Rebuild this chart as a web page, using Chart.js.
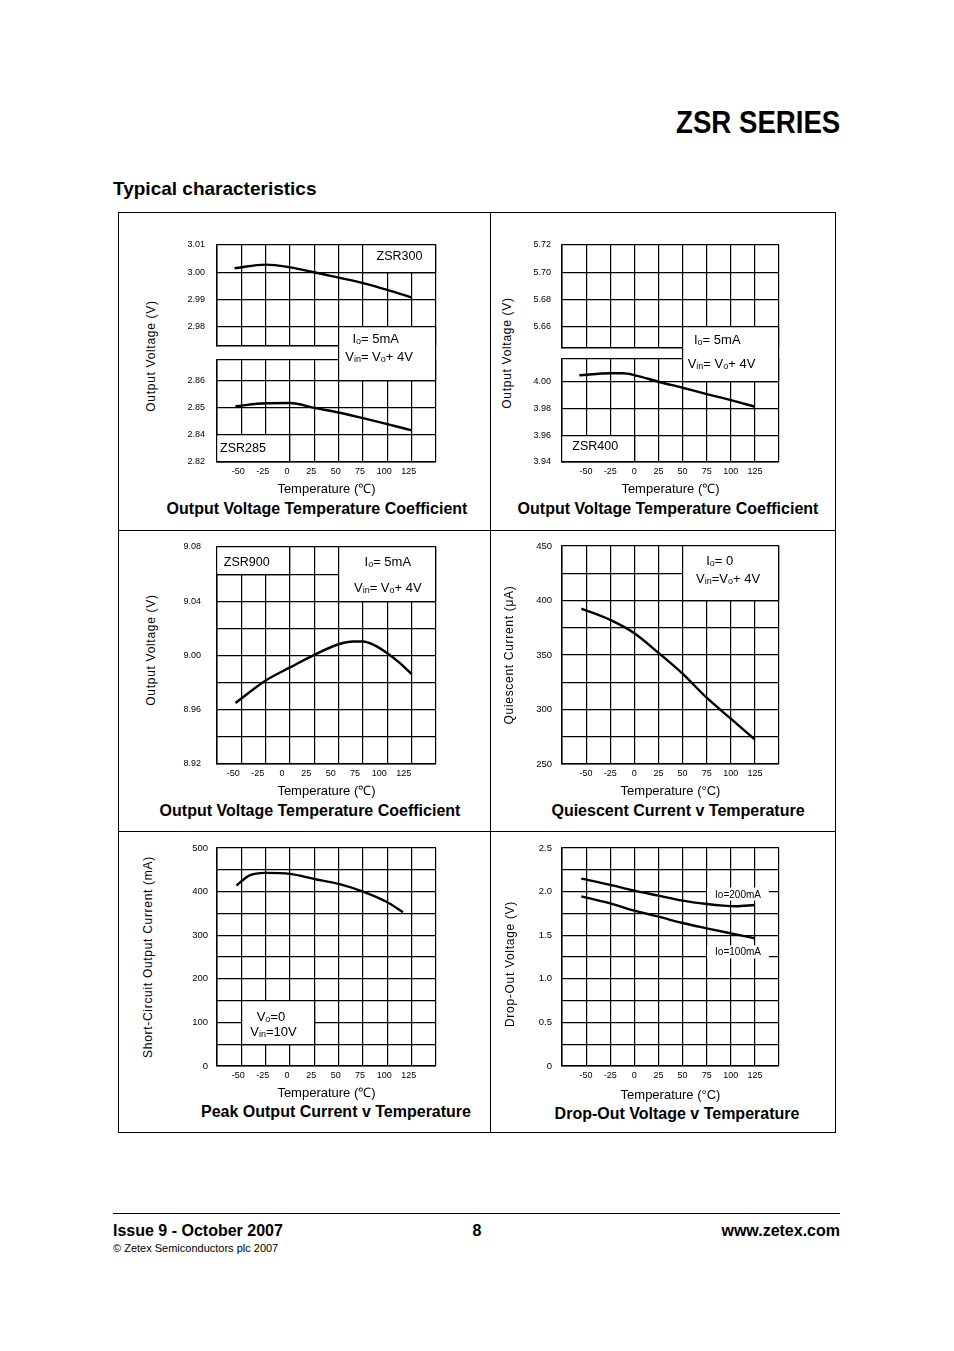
<!DOCTYPE html>
<html>
<head>
<meta charset="utf-8">
<script src="https://cdn.jsdelivr.net/npm/chart.js@4.4.1/dist/chart.umd.min.js"></script>
<style>
  body { margin: 0; background: #fff; }
  #page { position: relative; width: 954px; height: 1351px; font-family: "Liberation Sans", Arial, sans-serif; color: #000; overflow: hidden; }
  .abs { position: absolute; white-space: nowrap; }
  .line { position: absolute; background: #000; }
  canvas { position: absolute; }
  .ytitle { position: absolute; font-size: 12px; letter-spacing: 0.7px; white-space: nowrap; transform: translate(-50%, -50%) rotate(-90deg); }
  .ptitle { position: absolute; font-weight: bold; font-size: 16px; line-height: 16px; white-space: nowrap; transform: translateX(-50%); }
</style>
</head>
<body>
<div id="page">
  <div class="abs" style="right:114px; top:106px; font: bold 32px/32px 'Liberation Sans', Arial, sans-serif; transform: scaleX(0.863); transform-origin: right center;">ZSR SERIES</div>
  <div class="abs" style="left:113px; top:179px; font: bold 19px/19px 'Liberation Sans', Arial, sans-serif;">Typical characteristics</div>

  <!-- panel frame -->
  <div class="line" style="left:118px; top:212px; width:718px; height:1px;"></div>
  <div class="line" style="left:118px; top:1132px; width:718px; height:1px;"></div>
  <div class="line" style="left:118px; top:212px; width:1px; height:921px;"></div>
  <div class="line" style="left:835px; top:212px; width:1px; height:921px;"></div>
  <div class="line" style="left:490px; top:212px; width:1px; height:921px;"></div>
  <div class="line" style="left:118px; top:530px; width:718px; height:1px;"></div>
  <div class="line" style="left:118px; top:831px; width:718px; height:1px;"></div>

  <canvas id="c1a" style="z-index:2"></canvas>
  <canvas id="c1b" style="z-index:1"></canvas>
  <canvas id="c2a" style="z-index:2"></canvas>
  <canvas id="c2b" style="z-index:1"></canvas>
  <canvas id="c3"></canvas>
  <canvas id="c4"></canvas>
  <canvas id="c5"></canvas>
  <canvas id="c6"></canvas>

  <div class="ytitle" style="left:151px; top:356px;">Output Voltage (V)</div>
  <div class="ytitle" style="left:507px; top:353px;">Output Voltage (V)</div>
  <div class="ytitle" style="left:151px; top:650px;">Output Voltage (V)</div>
  <div class="ytitle" style="left:509px; top:655px;">Quiescent Current (μA)</div>
  <div class="ytitle" style="left:148px; top:957px;">Short-Circuit Output Current (mA)</div>
  <div class="ytitle" style="left:510px; top:964px;">Drop-Out Voltage (V)</div>

  <div class="ptitle" style="left:317px; top:501px;">Output Voltage Temperature Coefficient</div>
  <div class="ptitle" style="left:668px; top:501px;">Output Voltage Temperature Coefficient</div>
  <div class="ptitle" style="left:310px; top:803px;">Output Voltage Temperature Coefficient</div>
  <div class="ptitle" style="left:678px; top:803px;">Quiescent Current v Temperature</div>
  <div class="ptitle" style="left:336px; top:1104px;">Peak Output Current v Temperature</div>
  <div class="ptitle" style="left:677px; top:1106px;">Drop-Out Voltage v Temperature</div>

  <!-- footer -->
  <div class="line" style="left:113px; top:1213px; width:727px; height:1px;"></div>
  <div class="abs" style="left:113px; top:1223px; font: bold 16px/16px 'Liberation Sans', Arial, sans-serif;">Issue 9 - October 2007</div>
  <div class="abs" style="left:477px; top:1223px; transform:translateX(-50%); font: bold 16px/16px 'Liberation Sans', Arial, sans-serif;">8</div>
  <div class="abs" style="right:114px; top:1223px; font: bold 16px/16px 'Liberation Sans', Arial, sans-serif;">www.zetex.com</div>
  <div class="abs" style="left:113px; top:1243px; font: 11px/11px 'Liberation Sans', Arial, sans-serif;">© Zetex Semiconductors plc 2007</div>
</div>

<script>
// temperature axis: grid every 25 °C, labels -50..125
const tempGrid = [-75, -50, -25, 0, 25, 50, 75, 100, 125, 150];
const tempLabels = ['', '-50', '-25', '0', '25', '50', '75', '100', '125', ''];

// panel 1: ZSR300 (upper) and ZSR285 (lower)
const t300 = [-57, -25, 0, 25, 50, 75, 100, 125];
const v300 = [3.0015, 3.0028, 3.0018, 3.0000, 2.9980, 2.9960, 2.9935, 2.9907];
const t285 = [-56, -25, 0, 25, 50, 75, 100, 125];
const v285 = [2.8506, 2.8517, 2.8518, 2.8500, 2.8483, 2.8462, 2.8440, 2.8417];
const p1UpGrid = [2.98, 2.99, 3.00, 3.01];
const p1UpLabels = ['2.98', '2.99', '3.00', '3.01'];
const p1LoGrid = [2.83, 2.84, 2.85, 2.86];
const p1LoLabels = ['2.82', '2.84', '2.85', '2.86'];

// panel 2: ZSR400
const t400 = [-57, -25, -12, 0, 25, 50, 75, 100, 125];
const v400 = [4.0048, 4.0063, 4.0063, 4.0050, 4.0000, 3.9955, 3.9908, 3.9863, 3.9813];
const p2UpGrid = [5.66, 5.68, 5.70, 5.72];
const p2UpLabels = ['5.66', '5.68', '5.70', '5.72'];
const p2LoGrid = [3.94, 3.96, 3.98, 4.00];
const p2LoLabels = ['3.94', '3.96', '3.98', '4.00'];

// panel 3: ZSR900
const t900 = [-56, -25, 0, 25, 50, 65, 75, 87, 100, 113, 125];
const v900 = [8.965, 8.9816, 8.9912, 9.0005, 9.0083, 9.0103, 9.0103, 9.0075, 9.0017, 8.9944, 8.9863];
const p3Grid = [8.92, 8.94, 8.96, 8.98, 9.00, 9.02, 9.04, 9.06, 9.08];
const p3Labels = ['8.92', '', '8.96', '', '9.00', '', '9.04', '', '9.08'];

// panel 4: quiescent current (µA)
const tIq = [-55, -25, 0, 25, 50, 75, 100, 125];
const vIq = [392.6, 382.2, 370, 352, 332.9, 310.8, 291.6, 272.5];
const p4Grid = [250, 275, 300, 325, 350, 375, 400, 425, 450];
const p4Labels = ['250', '', '300', '', '350', '', '400', '', '450'];

// panel 5: short-circuit output current (mA)
const tIsc = [-55, -42, -25, 0, 25, 50, 75, 100, 116];
const vIsc = [413.8, 436.7, 442.9, 440.6, 429, 417.6, 400, 375.5, 352.5];
const p5Grid = [0, 50, 100, 150, 200, 250, 300, 350, 400, 450, 500];
const p5Labels = ['0', '', '100', '', '200', '', '300', '', '400', '', '500'];

// panel 6: drop-out voltage (V)
const tDo200 = [-55, -25, 0, 25, 50, 75, 92, 105, 125];
const vDo200 = [2.149, 2.077, 2.011, 1.954, 1.897, 1.858, 1.839, 1.832, 1.847];
const tDo100 = [-55, -25, 0, 25, 50, 75, 100, 125];
const vDo100 = [1.946, 1.866, 1.782, 1.713, 1.640, 1.579, 1.521, 1.464];
const p6Grid = [0, 0.25, 0.5, 0.75, 1.0, 1.25, 1.5, 1.75, 2.0, 2.25, 2.5];
const p6Labels = ['0', '', '0.5', '', '1.0', '', '1.5', '', '2.0', '', '2.5'];

const FONT = '"Liberation Sans", Arial, sans-serif';
Chart.defaults.font.family = FONT;
Chart.defaults.color = '#000';

const Y_W = 50;
const GRID_W = 1.2;

function snap(p, w) { return Math.round(p - w / 2) + w / 2; }

// draws text with {sub} parts as subscripts, centred on (cx, cy)
function drawRich(ctx, str, cx, cy, size) {
  const parts = [];
  str.replace(/([^{]+)|\{([^}]*)\}/g, (m, a, b) => { parts.push(a !== undefined ? [a, false] : [b, true]); return m; });
  const fMain = size + 'px ' + FONT;
  const fSub = Math.round(size * 0.7) + 'px ' + FONT;
  let w = 0;
  parts.forEach(([s, sub]) => { ctx.font = sub ? fSub : fMain; w += ctx.measureText(s).width; });
  let x = cx - w / 2;
  const base = cy + size * 0.36;
  ctx.textAlign = 'left';
  ctx.textBaseline = 'alphabetic';
  ctx.fillStyle = '#000';
  parts.forEach(([s, sub]) => {
    ctx.font = sub ? fSub : fMain;
    ctx.fillText(s, x, base + (sub ? size * 0.08 : 0));
    x += ctx.measureText(s).width;
  });
  return w;
}

const notesPlugin = {
  id: 'notes',
  afterDraw(chart, args, opts) {
    const { ctx, chartArea: a, scales: { x, y } } = chart;
    ctx.save();
    (opts.boxes || []).forEach(b => {
      const l = snap(x.getPixelForValue(b.x0), GRID_W);
      const r = snap(x.getPixelForValue(b.x1), GRID_W);
      const t = b.y1 == null ? a.top - 1 : snap(y.getPixelForValue(b.y1), GRID_W);
      const btm = b.y0 == null ? a.bottom + (b.extend || 0) : snap(y.getPixelForValue(b.y0), GRID_W);
      const sides = b.sides || 'tlrb';
      ctx.fillStyle = '#fff';
      ctx.fillRect(l, t, r - l, btm - t);
      ctx.strokeStyle = '#000';
      ctx.lineWidth = GRID_W;
      ctx.beginPath();
      if (sides.includes('t')) { ctx.moveTo(l, t); ctx.lineTo(r, t); }
      if (sides.includes('b')) { ctx.moveTo(l, btm); ctx.lineTo(r, btm); }
      if (sides.includes('l')) { ctx.moveTo(l, t); ctx.lineTo(l, btm); }
      if (sides.includes('r')) { ctx.moveTo(r, t); ctx.lineTo(r, btm); }
      ctx.stroke();
    });
    (opts.texts || []).forEach(tx => {
      const cx = x.getPixelForValue(tx.x), cy = y.getPixelForValue(tx.y);
      const size = tx.size || 13;
      if (tx.bg) {
        ctx.font = size + 'px ' + FONT;
        const w = ctx.measureText(tx.text).width;
        ctx.fillStyle = '#fff';
        ctx.fillRect(cx - w / 2 - 8, cy - 6.5, w + 16, 13);
      }
      drawRich(ctx, tx.text, cx, cy, size);
    });
    ctx.restore();
  }
};

function tempAxis(showLabels, labelOffset, xH, title) {
  return {
    type: 'linear', min: -75, max: 150,
    afterBuildTicks: s => { s.ticks = tempGrid.map(v => ({ value: v })); },
    afterFit: s => { s.height = xH; },
    grid: { color: '#000', lineWidth: GRID_W, drawTicks: false },
    border: { color: '#000', width: 1.5 },
    ticks: {
      display: showLabels, padding: 4, labelOffset: labelOffset, color: '#000',
      font: { size: 9 }, maxRotation: 0, autoSkip: false,
      callback: (v, i) => tempLabels[i]
    },
    title: { display: showLabels, text: title, color: '#000', padding: 0, font: { size: 13, lineHeight: 1.2 } }
  };
}

function valueAxis(min, max, grid, labels, pad, size) {
  return {
    type: 'linear', min: min, max: max,
    afterBuildTicks: s => {
      s.ticks = grid.map(v => ({ value: v }));
      if (grid[grid.length - 1] < max - 1e-9) s.ticks.push({ value: max });
    },
    afterFit: s => { s.width = Y_W; },
    grid: { color: '#000', lineWidth: GRID_W, drawTicks: false },
    border: { color: '#000', width: 1.5 },
    ticks: {
      padding: pad, color: '#000', font: { size: size || 9 }, autoSkip: false,
      callback: (v, i) => labels[i] || ''
    }
  };
}

function series(t, v) {
  return {
    data: t.map((tt, i) => ({ x: tt, y: v[i] })),
    borderColor: '#000', borderWidth: 2.4, pointRadius: 0,
    tension: 0.4, cubicInterpolationMode: 'monotone', fill: false
  };
}

function makeChart(id, rect, cfg) {
  // the y axis reserves half a label plus its tick padding above the plot
  const topPad = cfg.y.ticks.padding + 7;
  const pad = { top: topPad, right: 8, bottom: cfg.padBottom || 0, left: 0 };
  const xH = cfg.xLabels ? (cfg.xH || 35) : 0;
  const canvas = document.getElementById(id);
  canvas.width = Y_W + (rect.r - rect.l) + pad.right;
  canvas.height = pad.top + (rect.b - rect.t) + xH + pad.bottom;
  canvas.style.left = (rect.l - Y_W) + 'px';
  canvas.style.top = (rect.t - pad.top) + 'px';
  return new Chart(canvas, {
    type: 'line',
    data: { datasets: cfg.series },
    options: {
      responsive: false,
      animation: false,
      layout: { padding: pad },
      scales: {
        x: tempAxis(!!cfg.xLabels, cfg.labelOffset || 0, xH, cfg.xTitle || ''),
        y: cfg.y
      },
      plugins: {
        legend: { display: false },
        tooltip: { enabled: false },
        notes: { boxes: cfg.boxes || [], texts: cfg.texts || [] }
      }
    },
    plugins: [notesPlugin]
  });
}

const L = { l: 217, r: 436 }, R = { l: 562, r: 779 };

// panel 1
makeChart('c1a', { l: L.l, r: L.r, t: 245, b: 346 }, {
  series: [series(t300, v300)],
  y: valueAxis(2.9729, 3.01, p1UpGrid, p1UpLabels, 12),
  padBottom: 20,
  boxes: [
    { x0: 75, x1: 150, y0: 3.00, y1: 3.01 },
    { x0: 50, x1: 150, y1: 2.98, y0: null, extend: 15, sides: 'tlr' }
  ],
  texts: [
    { text: 'ZSR300', x: 112.5, y: 3.0062, size: 12.5 },
    { text: 'I{o}= 5mA', x: 88, y: 2.9757 },
    { text: 'V{in}= V{o}+ 4V', x: 91.5, y: 2.969 }
  ]
});
makeChart('c1b', { l: L.l, r: L.r, t: 360, b: 462 }, {
  series: [series(t285, v285)],
  y: valueAxis(2.83, 2.8677, p1LoGrid, p1LoLabels, 12),
  xLabels: true, labelOffset: -3, xTitle: 'Temperature (℃)',
  boxes: [
    { x0: 50, x1: 150, y1: null, y0: 2.86, sides: 'lrb' },
    { x0: -75, x1: 0, y0: 2.83, y1: 2.84 }
  ],
  texts: [{ text: 'ZSR285', x: -48.3, y: 2.8354, size: 12.5 }]
});

// panel 2
makeChart('c2a', { l: R.l, r: R.r, t: 245, b: 348 }, {
  series: [],
  y: valueAxis(5.6444, 5.72, p2UpGrid, p2UpLabels, 11),
  padBottom: 24,
  boxes: [{ x0: 50, x1: 150, y1: 5.66, y0: null, extend: 12, sides: 'tlr' }],
  texts: [
    { text: 'I{o}= 5mA', x: 86, y: 5.6507 },
    { text: 'V{in}= V{o}+ 4V', x: 90.4, y: 5.6331 }
  ]
});
makeChart('c2b', { l: R.l, r: R.r, t: 359, b: 462 }, {
  series: [series(t400, v400)],
  y: valueAxis(3.94, 4.017, p2LoGrid, p2LoLabels, 11),
  xLabels: true, xTitle: 'Temperature (℃)',
  boxes: [
    { x0: 50, x1: 150, y1: null, y0: 4.00, sides: 'lrb' },
    { x0: -75, x1: 0, y0: 3.94, y1: 3.96 }
  ],
  texts: [{ text: 'ZSR400', x: -40.6, y: 3.9523, size: 12.5 }]
});

// panel 3
makeChart('c3', { l: L.l, r: L.r, t: 547, b: 764 }, {
  series: [series(t900, v900)],
  y: valueAxis(8.92, 9.08, p3Grid, p3Labels, 16),
  xLabels: true, labelOffset: -8, xTitle: 'Temperature (℃)',
  boxes: [
    { x0: -75, x1: 0, y0: 9.06, y1: 9.08 },
    { x0: 50, x1: 150, y0: 9.04, y1: 9.08 }
  ],
  texts: [
    { text: 'ZSR900', x: -44.5, y: 9.0695, size: 12.5 },
    { text: 'I{o}= 5mA', x: 100.5, y: 9.0695 },
    { text: 'V{in}= V{o}+ 4V', x: 100.5, y: 9.0506 }
  ]
});

// panel 4
makeChart('c4', { l: R.l, r: R.r, t: 546, b: 764 }, {
  series: [series(tIq, vIq)],
  y: valueAxis(250, 450, p4Grid, p4Labels, 10, 9.5),
  xLabels: true, xTitle: 'Temperature (°C)',
  boxes: [{ x0: 50, x1: 150, y0: 400, y1: 450 }],
  texts: [
    { text: 'I{o}= 0', x: 88.6, y: 437.1 },
    { text: 'V{in}=V{o}+ 4V', x: 97.2, y: 420.3 }
  ]
});

// panel 5
makeChart('c5', { l: L.l, r: L.r, t: 848, b: 1066 }, {
  series: [series(tIsc, vIsc)],
  y: valueAxis(0, 500, p5Grid, p5Labels, 9, 9.5),
  xLabels: true, labelOffset: -3, xTitle: 'Temperature (℃)',
  boxes: [{ x0: -50, x1: 25, y0: 50, y1: 150 }],
  texts: [
    { text: 'V{o}=0', x: -19.6, y: 113.5 },
    { text: 'V{in}=10V', x: -17, y: 80.4 }
  ]
});

// panel 6
makeChart('c6', { l: R.l, r: R.r, t: 848, b: 1066 }, {
  series: [series(tDo200, vDo200), series(tDo100, vDo100)],
  y: valueAxis(0, 2.5, p6Grid, p6Labels, 10, 9.5),
  xLabels: true, xH: 37, xTitle: 'Temperature (°C)',
  texts: [
    { text: 'Io=200mA', x: 107.5, y: 1.972, size: 10, bg: true },
    { text: 'Io=100mA', x: 107.5, y: 1.309, size: 10, bg: true }
  ]
});
</script>
</body>
</html>
